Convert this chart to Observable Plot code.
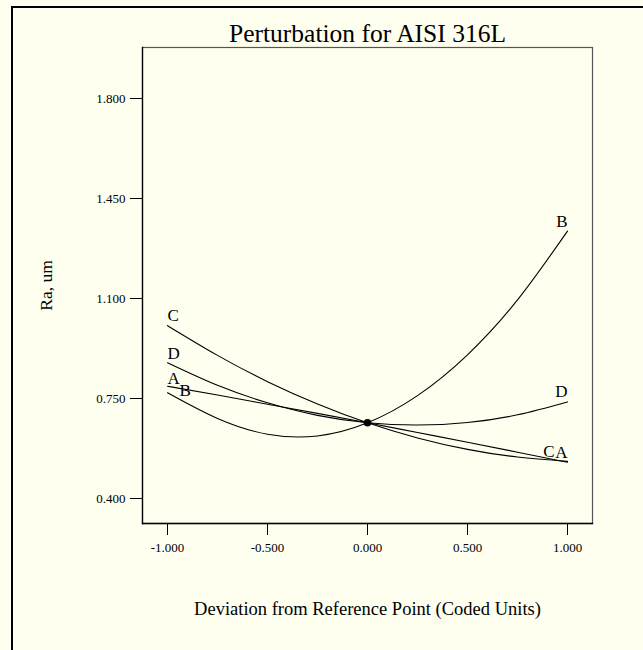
<!DOCTYPE html>
<html>
<head>
<meta charset="utf-8">
<script src="https://cdn.jsdelivr.net/npm/d3@7"></script>
<script src="https://cdn.jsdelivr.net/npm/@observablehq/plot@0.6"></script>
<style>
  html, body { margin: 0; padding: 0; background: #FFFFF0; overflow: hidden; width: 643px; height: 650px; }
  #wrap { position: relative; width: 643px; height: 650px; }
  #border { position: absolute; left: 11px; top: 6px; width: 800px; height: 800px;
            border-top: 2.5px solid #000; border-left: 2.5px solid #000; }
  #chart { position: absolute; left: 0; top: 0; }
</style>
</head>
<body>
<div id="wrap"><div id="border"></div><div id="chart"></div></div>
<script>
// Coded deviation positions (x) and Ra readings for each factor
const xs = [-1, -0.75, -0.5, -0.25, 0, 0.25, 0.5, 0.75, 1];
const factorA = [0.793, 0.762, 0.730, 0.698, 0.665, 0.631, 0.597, 0.562, 0.527];
const factorB = [0.770, 0.680, 0.625, 0.619, 0.665, 0.760, 0.903, 1.095, 1.336];
const factorC = [1.005, 0.901, 0.809, 0.731, 0.665, 0.612, 0.572, 0.545, 0.530];
const factorD = [0.875, 0.796, 0.735, 0.691, 0.665, 0.657, 0.666, 0.693, 0.738];
const factorNames = ["A", "B", "C", "D"];
const centerPoint = [{x: 0, y: 0.665}];

const xTicks = [-1, -0.5, 0, 0.5, 1];
const yTicks = [0.4, 0.75, 1.1, 1.45, 1.8];
const xDomain = [-1.125, 1.125];
const yDomain = [0.3125, 1.9785];

const titleText = "Perturbation for AISI 316L";
const xLabel = "Deviation from Reference Point (Coded Units)";
const yLabel = "Ra, um";

const series = {A: factorA, B: factorB, C: factorC, D: factorD};
const lineData = factorNames.flatMap(f => xs.map((x, i) => ({factor: f, x, y: series[f][i]})));

// end labels: [factor, which end, dx, dy]
const labelSpec = [
  ["C", 0, 0, -10], ["D", 0, 0, -9], ["A", 0, 0, -8], ["B", 0, 12, -2],
  ["B", 8, 0, -10], ["D", 8, 0, -10], ["A", 8, 0, -10], ["C", 8, -13, -10]
];
const labelData = labelSpec.map(([f, i, dx, dy]) => ({text: f, x: xs[i], y: series[f][i], dx, dy, anchor: i === 0 ? "start" : "end"}));

const fmt = d => d.toFixed(3);
const font = "'Liberation Serif', 'Times New Roman', serif";

const marks = [
  Plot.frame({stroke: "#555", strokeWidth: 1.2}),
  Plot.frame({anchor: "left", stroke: "#000", strokeWidth: 1.3}),
  Plot.frame({anchor: "bottom", stroke: "#000", strokeWidth: 1.3}),
  Plot.axisY({ticks: yTicks, tickFormat: fmt, tickSize: 12, tickPadding: 5, fontSize: 13, label: null, stroke: "#000"}),
  Plot.axisX({ticks: xTicks, tickFormat: fmt, tickSize: 12, tickPadding: 7, fontSize: 13, label: null, stroke: "#000"}),
  Plot.line(lineData, {x: "x", y: "y", z: "factor", curve: "natural", stroke: "#000", strokeWidth: 1.1}),
  Plot.dot(centerPoint, {x: "x", y: "y", r: 3.8, fill: "#000", stroke: "none"})
];
for (const d of labelData) {
  marks.push(Plot.text([d], {x: "x", y: "y", text: "text", dx: d.dx, dy: d.dy, textAnchor: d.anchor, fontSize: 17, fill: "#000"}));
}
marks.push(Plot.text([titleText], {frameAnchor: "top", lineAnchor: "middle", textAnchor: "middle", dy: -14, fontSize: 25.5, fill: "#000"}));
marks.push(Plot.text([xLabel], {frameAnchor: "bottom", lineAnchor: "middle", textAnchor: "middle", dy: 86, fontSize: 18.5, fill: "#000"}));
marks.push(Plot.text([yLabel], {frameAnchor: "left", lineAnchor: "middle", textAnchor: "middle", dx: -96, rotate: -90, fontSize: 17.5, fill: "#000"}));

const chart = Plot.plot({
  width: 643,
  height: 650,
  marginLeft: 142,
  marginRight: 51,
  marginTop: 47,
  marginBottom: 127,
  style: {background: "transparent", fontFamily: font, color: "#000", overflow: "visible"},
  x: {domain: xDomain},
  y: {domain: yDomain},
  marks
});
document.getElementById("chart").appendChild(chart);
</script>
</body>
</html>
